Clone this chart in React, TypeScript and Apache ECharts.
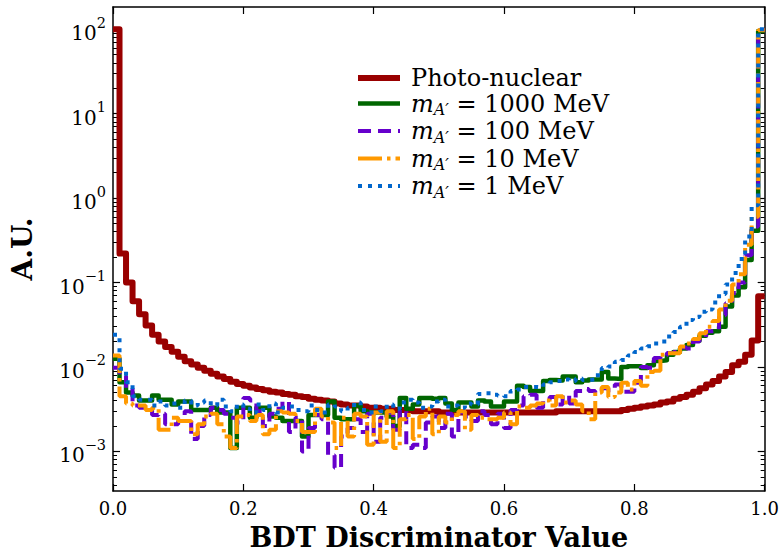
import React, { useEffect, useRef } from "react";
import * as echarts from "echarts";

// Histogram of the BDT output, 100 bins of width 0.01 on [0, 1]
const BIN_WIDTH = 0.01;

const photoNuclear = [
  100, 0.22, 0.10, 0.060, 0.042, 0.031, 0.024, 0.020, 0.0172, 0.0151,
  0.0132, 0.0117, 0.0107, 0.0098, 0.0090, 0.0083, 0.0077, 0.0072, 0.0067, 0.0063,
  0.0060, 0.0057, 0.0055, 0.0053, 0.0051, 0.0050, 0.0048, 0.0047, 0.0045, 0.0044,
  0.0042, 0.0041, 0.0040, 0.0039, 0.0037, 0.0036, 0.0035, 0.0035, 0.0034, 0.0033,
  0.0033, 0.0032, 0.0032, 0.0031, 0.0031, 0.0031, 0.0030, 0.0030, 0.0030, 0.0030,
  0.0029, 0.0029, 0.0029, 0.0029, 0.0029, 0.0029, 0.0029, 0.0029, 0.0029, 0.0029,
  0.0029, 0.0029, 0.0029, 0.0029, 0.0029, 0.0029, 0.0029, 0.0029, 0.0030, 0.0030,
  0.0030, 0.0030, 0.0030, 0.0030, 0.0030, 0.0030, 0.0030, 0.0030, 0.0031, 0.0032,
  0.0033, 0.0034, 0.0035, 0.0036, 0.0038, 0.0039, 0.0042, 0.0044, 0.0047, 0.0051,
  0.0056, 0.0062, 0.0068, 0.0077, 0.0087, 0.0105, 0.0115, 0.0140, 0.0206, 0.069,
];

const mAp1000 = [
  0.0125, 0.0066, 0.0050, 0.0046, 0.0040, 0.0040, 0.0046, 0.0041, 0.0041, 0.0036,
  0.0039, 0.0039, 0.0031, 0.0031, 0.0031, 0.0033, 0.0029, 0.0029, 0.0011, 0.0033,
  0.0033, 0.0025, 0.0033, 0.0033, 0.0026, 0.0025, 0.0023, 0.0023, 0.0023, 0.0015,
  0.0027, 0.0027, 0.0027, 0.0039, 0.0025, 0.0024, 0.0024, 0.0035, 0.0030, 0.0029,
  0.0029, 0.0029, 0.0026, 0.0020, 0.0043, 0.0032, 0.0036, 0.0043, 0.0043, 0.0042,
  0.0043, 0.0037, 0.0031, 0.0038, 0.0038, 0.0034, 0.0040, 0.0039, 0.0034, 0.0034,
  0.0039, 0.0039, 0.0060, 0.0058, 0.0052, 0.0052, 0.0068, 0.0070, 0.0069, 0.0077,
  0.0077, 0.0066, 0.0069, 0.0071, 0.0071, 0.0087, 0.0073, 0.0072, 0.0100, 0.0102,
  0.0102, 0.0097, 0.0105, 0.0118, 0.0120, 0.0140, 0.0150, 0.0165, 0.0182, 0.0205,
  0.0235, 0.0255, 0.0265, 0.030, 0.052, 0.070, 0.088, 0.185, 0.41, 95,
];

const mAp100 = [
  0.0098, 0.0078, 0.0056, 0.0035, 0.0033, 0.0033, 0.0027, 0.0028, 0.0021, 0.0021,
  0.0023, 0.0030, 0.0014, 0.0020, 0.0027, 0.0033, 0.0031, 0.0028, 0.0025, 0.0022,
  0.0043, 0.0040, 0.0030, 0.0020, 0.0028, 0.0032, 0.0039, 0.0017, 0.0025, 0.0010,
  0.0019, 0.0027, 0.0024, 0.00090, 0.00064, 0.0015, 0.0019, 0.0024, 0.0017, 0.0028,
  0.0013, 0.0025, 0.0029, 0.0018, 0.0031, 0.0011, 0.0012, 0.0011, 0.0022, 0.0026,
  0.0019, 0.0028, 0.0015, 0.0029, 0.0026, 0.0023, 0.0030, 0.0027, 0.0021, 0.0028,
  0.0019, 0.0031, 0.0035, 0.0045, 0.0047, 0.0033, 0.0041, 0.0044, 0.0036, 0.0046,
  0.0037, 0.0052, 0.0055, 0.0052, 0.0050, 0.0056, 0.0053, 0.0062, 0.0051, 0.0051,
  0.0065, 0.0100, 0.0098, 0.0128, 0.0137, 0.0146, 0.0150, 0.0170, 0.0165, 0.0200,
  0.0225, 0.0265, 0.0270, 0.041, 0.057, 0.075, 0.100, 0.21, 0.46, 98,
];

const mAp10 = [
  0.0137, 0.0045, 0.0037, 0.0035, 0.0035, 0.0031, 0.0033, 0.0018, 0.0018, 0.0025,
  0.0023, 0.0023, 0.0016, 0.0021, 0.0026, 0.0028, 0.0021, 0.0015, 0.0011, 0.0026,
  0.0027, 0.0023, 0.0027, 0.0016, 0.0018, 0.0030, 0.0029, 0.0028, 0.0023, 0.0017,
  0.0017, 0.0032, 0.0026, 0.0022, 0.0011, 0.0025, 0.0015, 0.0028, 0.0026, 0.0012,
  0.0029, 0.0013, 0.0030, 0.0011, 0.0024, 0.0027, 0.0014, 0.0026, 0.0032, 0.0016,
  0.0026, 0.0022, 0.0027, 0.0030, 0.0018, 0.0027, 0.0025, 0.0024, 0.0024, 0.0025,
  0.0029, 0.0021, 0.0034, 0.0033, 0.0035, 0.0037, 0.0040, 0.0035, 0.0045, 0.0038,
  0.0040, 0.0036, 0.0030, 0.0024, 0.0050, 0.0058, 0.0044, 0.0050, 0.0065, 0.0054,
  0.0068, 0.0060, 0.0087, 0.0090, 0.0140, 0.0145, 0.0145, 0.0175, 0.0190, 0.0215,
  0.0250, 0.0300, 0.0350, 0.048, 0.061, 0.095, 0.125, 0.28, 0.60, 97,
];

const mAp1 = [
  0.024, 0.0095, 0.0066, 0.0045, 0.0041, 0.0041, 0.0035, 0.0039, 0.0035, 0.0037,
  0.0033, 0.0040, 0.0035, 0.0038, 0.0040, 0.0035, 0.0041, 0.0034, 0.0030, 0.0036,
  0.0032, 0.0029, 0.0036, 0.0031, 0.0037, 0.0029, 0.0033, 0.0034, 0.0031, 0.0030,
  0.0035, 0.0031, 0.0029, 0.0036, 0.0034, 0.0030, 0.0033, 0.0038, 0.0031, 0.0029,
  0.0034, 0.0030, 0.0036, 0.0032, 0.0038, 0.0041, 0.0038, 0.0033, 0.0034, 0.0039,
  0.0041, 0.0034, 0.0035, 0.0033, 0.0037, 0.0036, 0.0048, 0.0049, 0.0047, 0.0046,
  0.0045, 0.0052, 0.0054, 0.0058, 0.0058, 0.0057, 0.0062, 0.0066, 0.0068, 0.0071,
  0.0068, 0.0073, 0.0070, 0.0071, 0.0080, 0.0097, 0.0101, 0.0115, 0.0121, 0.0137,
  0.0150, 0.0165, 0.0176, 0.0190, 0.0200, 0.0230, 0.0260, 0.0300, 0.0360, 0.0390,
  0.0450, 0.0480, 0.0580, 0.073, 0.095, 0.13, 0.19, 0.35, 0.82, 100,
];

const seriesNames = [
  "Photo-nuclear",
  "mA' = 1000 MeV",
  "mA' = 100 MeV",
  "mA' = 10 MeV",
  "mA' = 1 MeV",
];
const massLabels = ["1000", "100", "10", "1"];

const xTicks = [0, 0.2, 0.4, 0.6, 0.8, 1.0];
const yDecades = [-3, -2, -1, 0, 1, 2];
const Y_MIN = 3.4e-4;
const Y_MAX = 183;

const FONT = "DejaVu Serif";

const logMin = Math.log10(Y_MIN);
const logMax = Math.log10(Y_MAX);

// minor ticks at 2..9 x 10^n (in log10 units), within the axis range
const yMinor: number[] = [];
for (let n = -4; n <= 2; n++) {
  for (let k = 2; k <= 9; k++) {
    const v = Math.log10(k * Math.pow(10, n));
    if (v > logMin && v < logMax) yMinor.push(v);
  }
}

// Step outline of a histogram on a log axis (no edges down to zero)
function stepData(values: number[]): number[][] {
  const pts: number[][] = values.map((v, i) => [i * BIN_WIDTH, Math.log10(v)]);
  pts.push([values.length * BIN_WIDTH, Math.log10(values[values.length - 1])]);
  return pts;
}

const frameLine = { show: true, onZero: false, lineStyle: { color: "#000", width: 1.5 } };
const majorTick = { color: "#000", width: 1.2 };

function App() {
  const ref = useRef<HTMLDivElement>(null);

  useEffect(() => {
    if (!ref.current) return;
    const chart = echarts.init(ref.current, null, { renderer: "svg" });

    const baseY = {
      type: "value" as const,
      min: logMin,
      max: logMax,
      splitLine: { show: false },
    };

    const option = {
      animation: false,
      backgroundColor: "#fff",
      grid: { left: 110, top: 7, width: 657, height: 490, containLabel: false },
      xAxis: [
        {
          type: "value",
          min: 0,
          max: 1,
          interval: 0.2,
          position: "bottom",
          axisLine: frameLine,
          axisTick: { inside: true, length: 7, lineStyle: majorTick },
          axisLabel: {
            customValues: xTicks,
            formatter: (v: number) => v.toFixed(1),
            fontFamily: FONT,
            fontSize: 18,
            color: "#000",
            margin: 8,
          },
          splitLine: { show: false },
          name: "BDT Discriminator Value",
          nameLocation: "middle",
          nameGap: 33,
          nameTextStyle: { fontFamily: FONT, fontWeight: "bold", fontSize: 27, color: "#000" },
        },
        {
          type: "value",
          min: 0,
          max: 1,
          interval: 0.2,
          position: "top",
          axisLine: frameLine,
          axisTick: { inside: true, length: 7, lineStyle: majorTick },
          axisLabel: { show: false },
          splitLine: { show: false },
        },
      ],
      yAxis: [
        {
          ...baseY,
          position: "left",
          axisLine: frameLine,
          axisTick: { inside: true, length: 7, customValues: yDecades, lineStyle: majorTick },
          axisLabel: {
            customValues: yDecades,
            margin: 7,
            formatter: (v: number) => {
              const e = Math.round(v);
              return `{b|10}{s|${e < 0 ? "\u2212" + -e : e}}`;
            },
            rich: {
              b: { fontFamily: FONT, fontSize: 20, lineHeight: 28, verticalAlign: "bottom", color: "#000" },
              s: { fontFamily: FONT, fontSize: 14.5, lineHeight: 16, verticalAlign: "top", color: "#000" },
            },
          },
          name: "A.U.",
          nameLocation: "middle",
          nameGap: 77,
          nameTextStyle: { fontFamily: FONT, fontWeight: "bold", fontSize: 28, color: "#000" },
        },
        {
          ...baseY,
          position: "left",
          axisLine: { show: false, onZero: false },
          axisTick: { inside: true, length: 4, customValues: yMinor, lineStyle: { color: "#000", width: 1 } },
          axisLabel: { show: false },
        },
        {
          ...baseY,
          position: "right",
          axisLine: frameLine,
          axisTick: { inside: true, length: 7, customValues: yDecades, lineStyle: majorTick },
          axisLabel: { show: false },
        },
        {
          ...baseY,
          position: "right",
          axisLine: { show: false, onZero: false },
          axisTick: { inside: true, length: 4, customValues: yMinor, lineStyle: { color: "#000", width: 1 } },
          axisLabel: { show: false },
        },
      ],
      legend: {
        data: seriesNames,
        orient: "vertical",
        left: 355,
        top: 66,
        padding: 0,
        itemGap: 1.5,
        itemWidth: 42,
        itemHeight: 14,
        selectedMode: false,
        itemStyle: { opacity: 0 },
        lineStyle: { width: "inherit" },
        formatter: (name: string) => {
          const i = seriesNames.indexOf(name);
          if (i === 0) return `{g| }{t|Photo-nuclear}`;
          return `{g| }{i|m}{sub|A\u2032}{t| = ${massLabels[i - 1]} MeV}`;
        },
        textStyle: {
          rich: {
            g: { width: 6, fontSize: 10, lineHeight: 28 },
            t: { fontFamily: FONT, fontSize: 24, lineHeight: 28, color: "#000" },
            i: { fontFamily: FONT, fontStyle: "italic", fontSize: 24, lineHeight: 28, color: "#000" },
            sub: { fontFamily: FONT, fontStyle: "italic", fontSize: 16, lineHeight: 16, verticalAlign: "bottom", color: "#000" },
          },
        },
      },
      series: [
        {
          name: seriesNames[0],
          type: "line",
          step: "end",
          symbol: "none",
          data: stepData(photoNuclear),
          lineStyle: { color: "#990000", width: 6, join: "round", cap: "butt" },
          itemStyle: { color: "#990000" },
          silent: true,
        },
        {
          name: seriesNames[1],
          type: "line",
          step: "end",
          symbol: "none",
          data: stepData(mAp1000),
          lineStyle: { color: "#006600", width: 4.5, join: "round", cap: "butt" },
          itemStyle: { color: "#006600" },
          silent: true,
        },
        {
          name: seriesNames[2],
          type: "line",
          step: "end",
          symbol: "none",
          data: stepData(mAp100),
          lineStyle: { color: "#6600cc", width: 4, type: [13, 7], cap: "butt" },
          itemStyle: { color: "#6600cc" },
          silent: true,
        },
        {
          name: seriesNames[3],
          type: "line",
          step: "end",
          symbol: "none",
          data: stepData(mAp10),
          lineStyle: { color: "#ff9900", width: 4, type: [24, 5, 3.5, 5], cap: "butt" },
          itemStyle: { color: "#ff9900" },
          silent: true,
        },
        {
          name: seriesNames[4],
          type: "line",
          step: "end",
          symbol: "none",
          data: stepData(mAp1),
          lineStyle: { color: "#0066cc", width: 4, type: [4, 6], cap: "butt" },
          itemStyle: { color: "#0066cc" },
          silent: true,
        },
      ],
    };

    chart.setOption(option as any);
    return () => chart.dispose();
  }, []);

  return (
    <div
      ref={ref}
      style={{ position: "absolute", left: 0, top: 0, width: 782, height: 556 }}
    />
  );
}

export default App;
